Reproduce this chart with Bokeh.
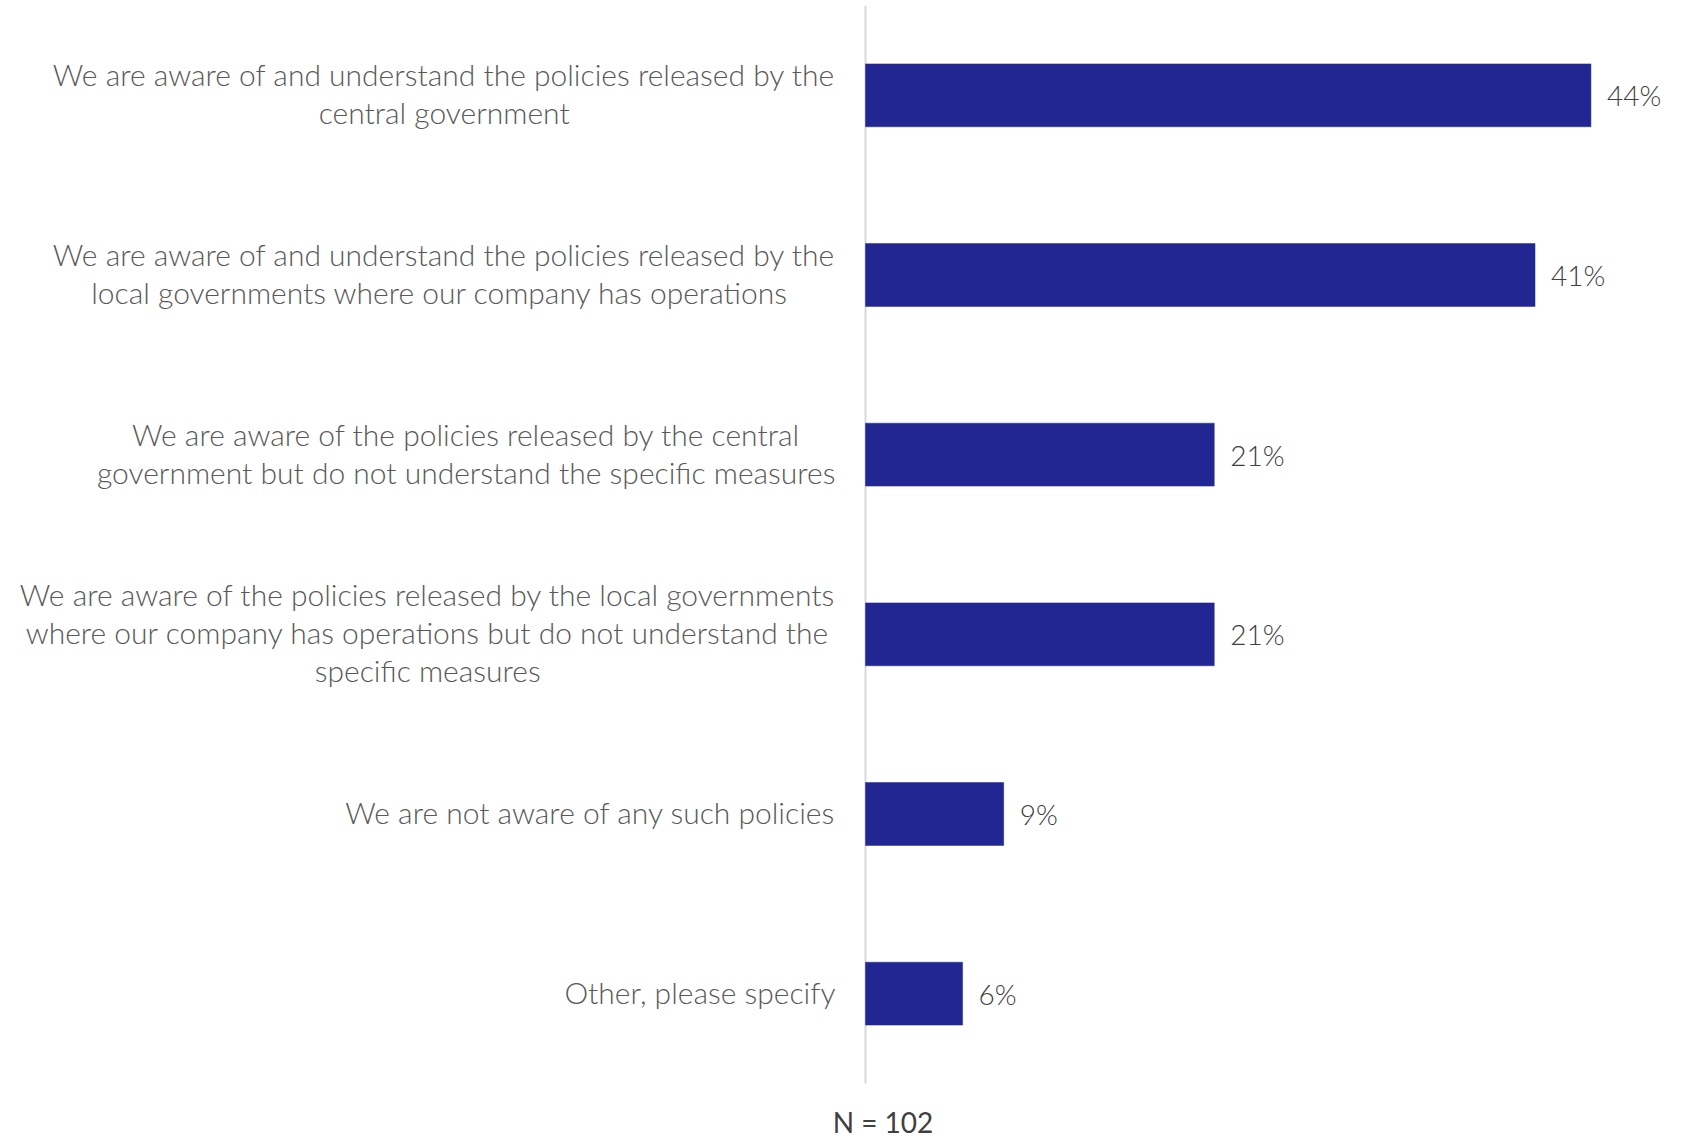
from bokeh.plotting import figure
from bokeh.models import Range1d, ColumnDataSource
from bokeh.core.properties import value
from bokeh.embed import file_html
from bokeh.resources import INLINE

# ---- data (top to bottom as in the chart) ----
categories = [
    "We are aware of and understand the policies released by the\ncentral government",
    "We are aware of and understand the policies released by the\nlocal governments  where our company has operations",
    "We are aware of the policies released by the central\ngovernment but do not understand the specific measures",
    "We are aware of the policies released by the local governments\nwhere our company has operations but do not understand the\nspecific measures",
    "We are not aware of any such policies",
    "Other, please specify",
]
values = [44.1, 40.7, 21.2, 21.2, 8.4, 5.9]
value_labels = ["44%", "41%", "21%", "21%", "9%", "6%"]
note = "N = 102"

BAR = "#222693"
FONT = "'Lato Light', Lato"
PX_PER_UNIT = 16.45
W = 1672
H = 1140
AXIS_X = 865          # pixel position of the zero line
TOP = 5               # pixel of the top of the category band
BAND_PX = 1078        # pixel height of the category band
n = len(categories)
px_per_cat = BAND_PX / n

# category slot positions (top slot = highest value)
slots = [n - i - 0.5 for i in range(n)]

src = ColumnDataSource(dict(cat=categories, y=slots, val=values, lab=value_labels,
                            zero=[0] * n))

y_bottom = n - (H - TOP) / px_per_cat
p = figure(width=W, height=H, output_backend="svg", toolbar_location=None,
           y_range=Range1d(y_bottom, n),
           x_range=Range1d(-AXIS_X / PX_PER_UNIT, (W - AXIS_X) / PX_PER_UNIT),
           min_border_left=0, min_border_right=0, min_border_top=TOP,
           min_border_bottom=0)
p.outline_line_color = None
p.xgrid.visible = False
p.ygrid.visible = False
p.xaxis.visible = False
p.yaxis.visible = False
p.background_fill_color = "white"
p.border_fill_color = "white"

# vertical zero line spanning the category band
p.segment(x0=[0], y0=[0], x1=[0], y1=[n], line_color="#d9d9d9", line_width=2)

p.hbar(y="y", left=0, right="val", height=0.35, source=src,
       fill_color=BAR, line_color=BAR, line_width=0.5)

# category labels: block right-anchored, lines centred inside the block
p.text(x="zero", y="y", text="cat", source=src, x_offset=-30, y_offset=-2,
       anchor="center_right", text_align="center", text_baseline="middle",
       text_font=value(FONT), text_font_size="30px", text_color="#595959",
       text_line_height=1.053)

# value labels
p.text(x="val", y="y", text="lab", source=src, x_offset=16,
       text_align="left", text_baseline="middle",
       text_font=value(FONT), text_font_size="28px", text_color="#404040")

# sample size note under the zero line
p.text(x=[0], y=[0], text=[note], x_offset=17.5, y_offset=38,
       text_align="center", text_baseline="middle",
       text_font=value("Lato"), text_font_size="28px", text_color="#404040")

open("out.html", "w").write(file_html(p, INLINE))
